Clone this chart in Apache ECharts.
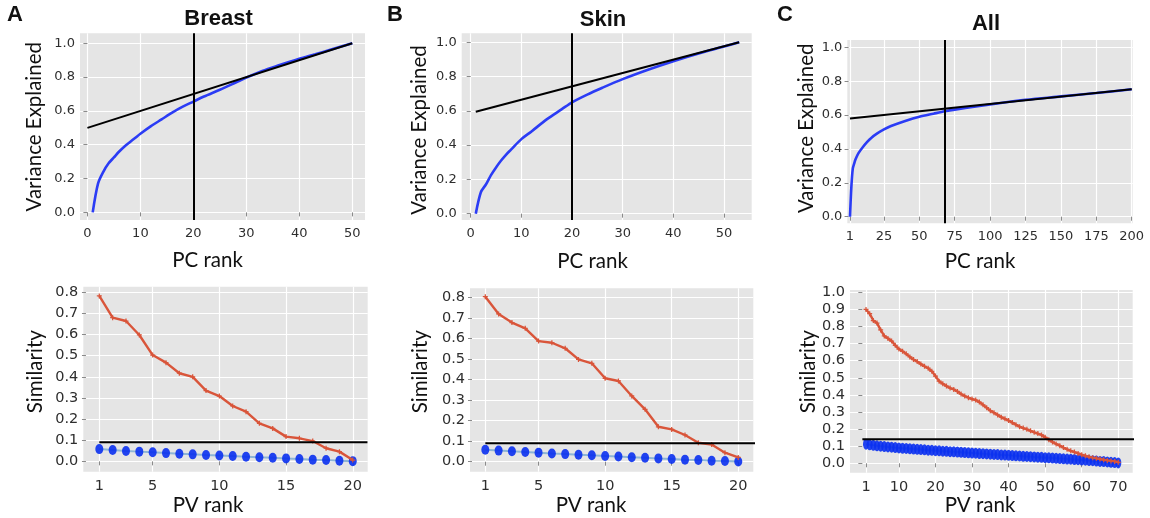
<!DOCTYPE html>
<html>
<head>
<meta charset="utf-8">
<script src="https://cdn.jsdelivr.net/npm/echarts@6/dist/echarts.min.js"></script>
<style>
  html, body { margin: 0; padding: 0; background: #ffffff; }
  #chart { width: 1150px; height: 518px; }
</style>
</head>
<body>
<div id="chart"></div>
<script>
// ---- Cumulative variance explained vs. PC rank ----
const pcRankBreast = [1, 2, 3, 4, 5, 6, 7, 8, 9, 10, 12, 14, 16, 18, 20, 22, 25, 28, 30, 33, 36, 40, 43, 46, 50];
const varExplBreast = [0, 0.17, 0.24, 0.29, 0.325, 0.36, 0.39, 0.415, 0.44, 0.465, 0.51, 0.55, 0.59, 0.625, 0.655, 0.685, 0.725, 0.768, 0.797, 0.836, 0.868, 0.908, 0.935, 0.963, 1.0];
const chordXBreast = [0, 50];
const chordYBreast = [0.5, 1.0];
const cutoffBreast = 20;

const pcRankSkin = [1, 2, 3, 4, 5, 6, 7, 8, 10, 12, 15, 18, 20, 23, 26, 30, 35, 40, 45, 50, 53];
const varExplSkin = [0, 0.125, 0.17, 0.225, 0.27, 0.31, 0.345, 0.375, 0.435, 0.48, 0.55, 0.61, 0.65, 0.695, 0.735, 0.785, 0.84, 0.89, 0.935, 0.975, 1.0];
const chordXSkin = [1, 53];
const chordYSkin = [0.595, 1.0];
const cutoffSkin = 20;

const pcRankAll = [1, 2, 3, 4, 5, 7, 10, 13, 16, 20, 25, 30, 40, 50, 60, 68, 75, 90, 100, 125, 150, 175, 200];
const varExplAll = [0, 0.18, 0.285, 0.315, 0.34, 0.375, 0.41, 0.44, 0.465, 0.49, 0.515, 0.535, 0.565, 0.59, 0.608, 0.622, 0.632, 0.65, 0.662, 0.69, 0.71, 0.73, 0.752];
const chordXAll = [1, 200];
const chordYAll = [0.58, 0.752];
const cutoffAll = 68;

// ---- Similarity vs. PV rank ----
const pvRank20 = [1, 2, 3, 4, 5, 6, 7, 8, 9, 10, 11, 12, 13, 14, 15, 16, 17, 18, 19, 20];
const simBreast = [0.783, 0.68, 0.664, 0.598, 0.503, 0.467, 0.417, 0.40, 0.335, 0.309, 0.262, 0.235, 0.18, 0.156, 0.117, 0.109, 0.096, 0.062, 0.046, 0.006];
const randBreast = [0.058, 0.054, 0.049, 0.046, 0.043, 0.039, 0.036, 0.033, 0.030, 0.028, 0.025, 0.022, 0.019, 0.017, 0.014, 0.011, 0.008, 0.006, 0.003, 0.001];
const threshBreast = 0.09;
const threshSpanBreast = [1, 21.1];

const simSkin = [0.803, 0.719, 0.677, 0.649, 0.587, 0.579, 0.552, 0.498, 0.479, 0.406, 0.393, 0.32, 0.255, 0.17, 0.157, 0.13, 0.092, 0.084, 0.044, 0.021];
const randSkin = [0.058, 0.054, 0.051, 0.047, 0.044, 0.040, 0.037, 0.034, 0.031, 0.028, 0.025, 0.022, 0.019, 0.016, 0.013, 0.010, 0.008, 0.005, 0.003, 0.001];
const threshSkin = 0.09;
const threshSpanSkin = [1, 21.4];

const pvRank70 = [1, 2, 3, 4, 5, 6, 7, 8, 9, 10, 11, 12, 13, 14, 15, 16, 17, 18, 19, 20,
  21, 22, 23, 24, 25, 26, 27, 28, 29, 30, 31, 32, 33, 34, 35, 36, 37, 38, 39, 40,
  41, 42, 43, 44, 45, 46, 47, 48, 49, 50, 51, 52, 53, 54, 55, 56, 57, 58, 59, 60,
  61, 62, 63, 64, 65, 66, 67, 68, 69, 70];
const simAll = [0.90, 0.875, 0.835, 0.82, 0.78, 0.745, 0.73, 0.715, 0.69, 0.668,
  0.655, 0.64, 0.622, 0.607, 0.595, 0.58, 0.567, 0.556, 0.538, 0.51,
  0.48, 0.465, 0.452, 0.44, 0.432, 0.42, 0.405, 0.393, 0.384, 0.376,
  0.37, 0.358, 0.342, 0.325, 0.308, 0.296, 0.283, 0.27, 0.26, 0.25,
  0.238, 0.226, 0.214, 0.206, 0.199, 0.19, 0.181, 0.174, 0.166, 0.152,
  0.138, 0.125, 0.113, 0.103, 0.092, 0.082, 0.073, 0.066, 0.058, 0.05,
  0.044, 0.038, 0.033, 0.029, 0.025, 0.021, 0.017, 0.014, 0.011, 0.006];
const randAll = [0.112, 0.108, 0.105, 0.102, 0.100, 0.098, 0.096, 0.094, 0.092, 0.090,
  0.088, 0.087, 0.085, 0.083, 0.082, 0.080, 0.079, 0.077, 0.076, 0.074,
  0.073, 0.071, 0.070, 0.068, 0.067, 0.066, 0.064, 0.063, 0.061, 0.060,
  0.059, 0.057, 0.056, 0.055, 0.053, 0.052, 0.051, 0.049, 0.048, 0.047,
  0.045, 0.044, 0.043, 0.041, 0.040, 0.039, 0.037, 0.036, 0.035, 0.033,
  0.032, 0.031, 0.029, 0.028, 0.026, 0.025, 0.024, 0.022, 0.021, 0.019,
  0.018, 0.016, 0.015, 0.013, 0.011, 0.010, 0.008, 0.006, 0.004, 0.002];
const threshAll = 0.14;
const threshSpanAll = [0, 74.6];

// ---- Tick values ----
const pcTicks50 = [0, 10, 20, 30, 40, 50];
const pcTicks200 = [1, 25, 50, 75, 100, 125, 150, 175, 200];
const varTicks = [0, 0.2, 0.4, 0.6, 0.8, 1.0];
const pvTicks20 = [1, 5, 10, 15, 20];
const pvTicks70 = [1, 10, 20, 30, 40, 50, 60, 70];
const simTicks08 = [0, 0.1, 0.2, 0.3, 0.4, 0.5, 0.6, 0.7, 0.8];
const simTicks10 = [0, 0.1, 0.2, 0.3, 0.4, 0.5, 0.6, 0.7, 0.8, 0.9, 1.0];

// ---- Styling ----
const PANEL_BG = '#e5e5e5';
const BLUE = '#2b3cf5';
const DOT_BLUE = '#0a30f0';
const LINK_BLUE = '#8db4d6';
const RED = '#d9553a';
const TICK_FONT = 'DejaVu Sans';
const LABEL_FONT = 'Lato';
const TITLE_FONT = 'Liberation Sans';
const PLUS = 'path://M3,0h2v3h3v2h-3v3h-2v-3h-3v-2h3z';

const zip = (xs, ys) => xs.map((x, i) => [x, ys[i]]);

const grids = [
  { left: 80, top: 33.3, width: 285, height: 186.7 },
  { left: 461.7, top: 33.3, width: 290, height: 186.7 },
  { left: 847.3, top: 40, width: 285.4, height: 183.3 },
  { left: 83.3, top: 286.7, width: 284.4, height: 185 },
  { left: 470, top: 288.3, width: 283.3, height: 183.4 },
  { left: 850, top: 290, width: 282.7, height: 182.7 }
].map(g => Object.assign({ show: true, backgroundColor: PANEL_BG, borderWidth: 0, containLabel: false }, g));

function axis(kind, gridIndex, min, max, ticks, fontSize, decimals) {
  return {
    type: 'value',
    gridIndex: gridIndex,
    min: min,
    max: max,
    axisLine: { show: false },
    axisTick: { show: true, length: 4, lineStyle: { color: '#8a8a8a', width: 1 }, customValues: ticks },
    axisLabel: {
      customValues: ticks,
      fontFamily: TICK_FONT,
      fontSize: fontSize,
      color: '#2e2e2e',
      margin: kind === 'x' ? 7 : 5,
      formatter: v => Number(v).toFixed(decimals)
    },
    splitLine: { show: true, lineStyle: { color: '#ffffff', width: 1.2 } }
  };
}

const xAxes = [
  axis('x', 0, -1.4, 52.4, pcTicks50, 13, 0),
  axis('x', 1, -1.78, 55.47, pcTicks50, 13, 0),
  axis('x', 2, -0.9, 200.7, pcTicks200, 13, 0),
  axis('x', 3, -0.2, 21.12, pvTicks20, 14.5, 0),
  axis('x', 4, -0.15, 21.13, pvTicks20, 14.5, 0),
  axis('x', 5, -3.38, 73.94, pvTicks70, 14.5, 0)
];
const yAxes = [
  axis('y', 0, -0.045, 1.059, varTicks, 13, 1),
  axis('y', 1, -0.037, 1.0525, varTicks, 13, 1),
  axis('y', 2, -0.039, 1.043, varTicks, 13, 1),
  axis('y', 3, -0.049, 0.8265, simTicks08, 14.5, 1),
  axis('y', 4, -0.0487, 0.844, simTicks08, 14.5, 1),
  axis('y', 5, -0.055, 1.0135, simTicks10, 14.5, 1)
];

function varianceSeries(idx, xs, ys, chordX, chordY, cutoff) {
  return [
    {
      type: 'line', xAxisIndex: idx, yAxisIndex: idx, data: zip(xs, ys),
      showSymbol: false, smooth: 0.3, silent: true,
      lineStyle: { color: BLUE, width: 2.6 }, z: 3
    },
    {
      type: 'line', xAxisIndex: idx, yAxisIndex: idx, data: zip(chordX, chordY),
      showSymbol: false, silent: true,
      lineStyle: { color: '#000000', width: 2 }, z: 4,
      markLine: {
        silent: true, symbol: 'none', label: { show: false },
        lineStyle: { color: '#000000', width: 2, type: 'solid' },
        data: [{ xAxis: cutoff }]
      }
    }
  ];
}

function similaritySeries(idx, xs, sim, rand, thresh, span, dotSize) {
  return [
    {
      type: 'line', xAxisIndex: idx, yAxisIndex: idx, data: zip(xs, rand),
      showSymbol: false, silent: true,
      lineStyle: { color: LINK_BLUE, width: 2 }, z: 2
    },
    {
      type: 'scatter', xAxisIndex: idx, yAxisIndex: idx, data: zip(xs, rand),
      symbol: 'circle', symbolSize: dotSize, silent: true,
      itemStyle: { color: DOT_BLUE, opacity: 0.9 }, z: 3
    },
    {
      type: 'line', xAxisIndex: idx, yAxisIndex: idx, data: zip(xs, sim),
      symbol: PLUS, symbolSize: 5, showSymbol: true, silent: true,
      itemStyle: { color: RED }, lineStyle: { color: RED, width: 2.4 }, z: 4
    },
    {
      type: 'line', xAxisIndex: idx, yAxisIndex: idx, data: zip(span, [thresh, thresh]),
      showSymbol: false, silent: true, clip: false,
      lineStyle: { color: '#000000', width: 2 }, z: 5
    }
  ];
}

const series = [].concat(
  varianceSeries(0, pcRankBreast, varExplBreast, chordXBreast, chordYBreast, cutoffBreast),
  varianceSeries(1, pcRankSkin, varExplSkin, chordXSkin, chordYSkin, cutoffSkin),
  varianceSeries(2, pcRankAll, varExplAll, chordXAll, chordYAll, cutoffAll),
  similaritySeries(3, pvRank20, simBreast, randBreast, threshBreast, threshSpanBreast, [8, 10]),
  similaritySeries(4, pvRank20, simSkin, randSkin, threshSkin, threshSpanSkin, [8, 10]),
  similaritySeries(5, pvRank70, simAll, randAll, threshAll, threshSpanAll, [6, 11])
);

function text(str, x, y, font, rotate) {
  return {
    type: 'text', x: x, y: y, rotation: rotate ? Math.PI / 2 : 0, silent: true,
    style: { text: str, font: font, fill: '#111111', align: 'center', verticalAlign: 'middle' }
  };
}
const boldFont = 'bold 22px "' + TITLE_FONT + '"';
const axisFont = '20.5px "' + LABEL_FONT + '"';

const graphic = [
  text('A', 15, 15, boldFont),
  text('B', 395, 15, boldFont),
  text('C', 785, 15, boldFont),
  text('Breast', 218.5, 19, boldFont),
  text('Skin', 603, 20, boldFont),
  text('All', 986, 24, boldFont),
  text('Variance Explained', 34.5, 126.7, axisFont, true),
  text('Variance Explained', 419, 130, axisFont, true),
  text('Variance Explained', 806, 128.3, axisFont, true),
  text('PC rank', 207.5, 260, axisFont),
  text('PC rank', 592.5, 261, axisFont),
  text('PC rank', 980, 261, axisFont),
  text('Similarity', 35, 371.7, axisFont, true),
  text('Similarity', 420, 371.7, axisFont, true),
  text('Similarity', 808, 371.7, axisFont, true),
  text('PV rank', 208, 505, axisFont),
  text('PV rank', 591, 505, axisFont),
  text('PV rank', 980, 505, axisFont)
];

const chart = echarts.init(document.getElementById('chart'), null, { renderer: 'canvas' });
chart.setOption({
  animation: false,
  backgroundColor: '#ffffff',
  grid: grids,
  xAxis: xAxes,
  yAxis: yAxes,
  series: series,
  graphic: graphic
});
</script>
</body>
</html>
